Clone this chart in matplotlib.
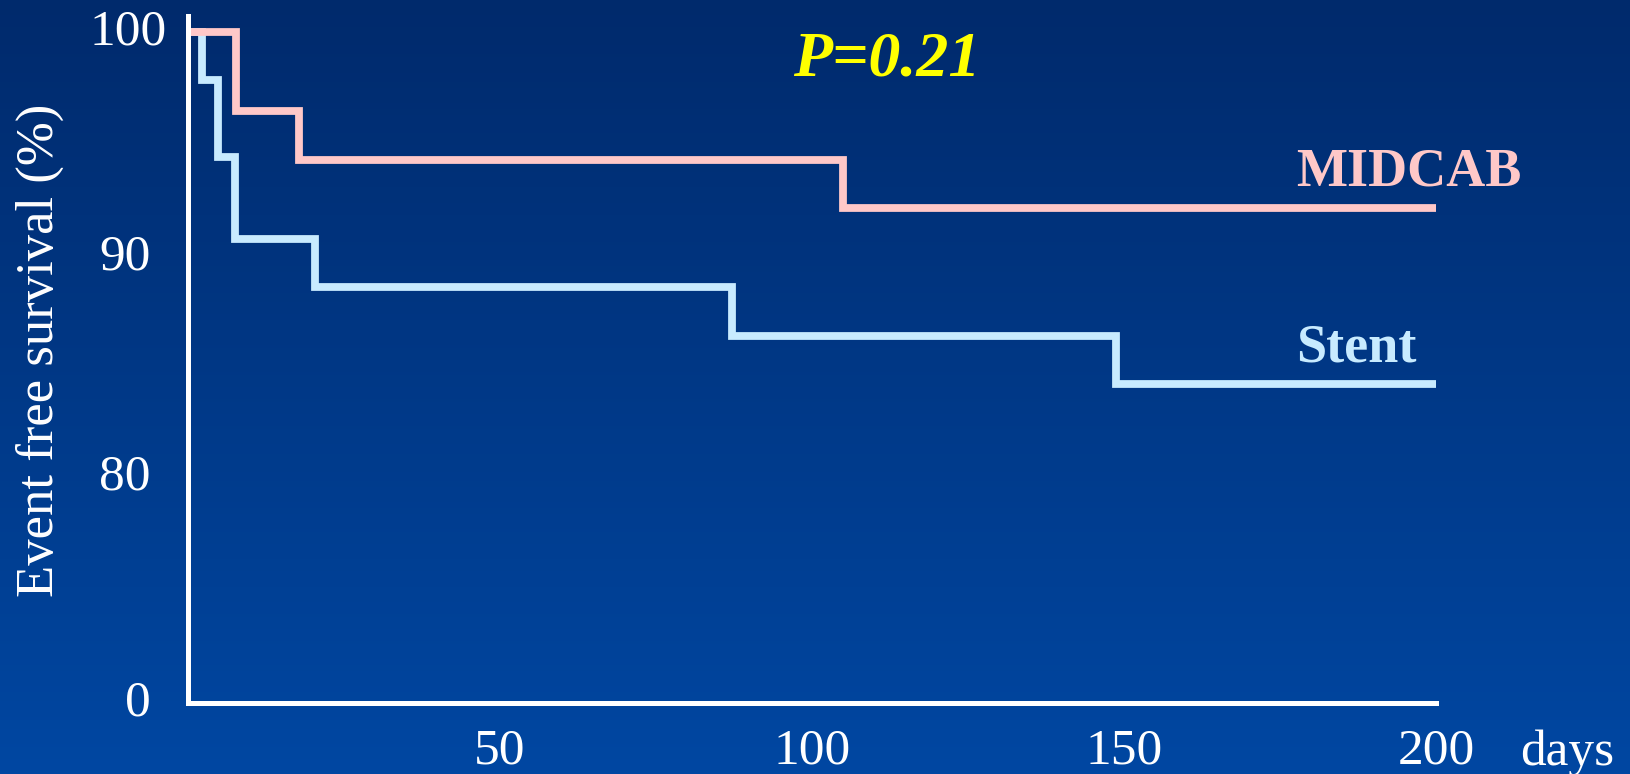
import numpy as np
import matplotlib
matplotlib.use("Agg")
import matplotlib.pyplot as plt
from matplotlib.colors import LinearSegmentedColormap

plt.rcParams['font.family'] = ['Liberation Serif', 'DejaVu Serif']

# Kaplan-Meier steps (days, % event free)
midcab_t = [0, 7.7, 17.8, 105.0, 200]
midcab_s = [100, 96.4, 94.2, 92.0, 92.0]
stent_t = [0, 2.2, 4.8, 7.5, 20.4, 87.2, 148.7, 200]
stent_s = [100, 97.8, 94.3, 90.6, 88.4, 86.2, 84.0, 84.0]

xticks = [50, 100, 150, 200]
yticks = [69.75, 80, 90, 100]
ytick_labels = ["0", "80", "90", ""]

pink = "#FFC8C8"
lightblue = "#C8EBFF"

fig = plt.figure(figsize=(16.3, 7.74), dpi=100)

# vertical blue gradient behind everything
bg = fig.add_axes([0, 0, 1, 1], zorder=-10)
cmap = LinearSegmentedColormap.from_list("bg", ["#002A6C", "#0047A2"])
bg.imshow(np.linspace(0, 1, 256).reshape(-1, 1), aspect="auto", cmap=cmap,
          extent=[0, 1, 0, 1])
bg.set_axis_off()

ax = fig.add_axes([188/1630, 71/774, (1436-188)/1630, (703-16)/774])
ax.patch.set_alpha(0)

ax.step(stent_t, stent_s, where="post", color=lightblue, lw=5.6,
        solid_joinstyle="miter", solid_capstyle="butt", clip_on=False)
ax.step(midcab_t, midcab_s, where="post", color=pink, lw=5.6,
        solid_joinstyle="miter", solid_capstyle="butt", clip_on=False)

ax.set_xlim(0, 200)
ax.set_ylim(69.5, 100.73)

for side in ["top", "right"]:
    ax.spines[side].set_visible(False)
for side in ["left", "bottom"]:
    ax.spines[side].set_color("white")
    ax.spines[side].set_linewidth(3.6)

ax.set_xticks(xticks)
ax.set_xticklabels([str(v) for v in xticks])
ax.set_yticks(yticks)
ax.set_yticklabels(ytick_labels)
ax.tick_params(axis="both", length=0, colors="white", labelsize=37)
ax.tick_params(axis="x", pad=18)
ax.tick_params(axis="y", pad=27)

# the top label sits closer to the axis than the others
ax.annotate("100", xy=(0, yticks[-1]), xytext=(-21, 0),
            textcoords="offset pixels", ha="right", va="center",
            color="white", fontsize=37)

fig.text(40/1630, 1-350/774, "Event free survival (%)", rotation=90,
         color="white", fontsize=38, ha="center", va="center")
fig.text(1520/1630, 1-765/774, "days", color="white", fontsize=37,
         ha="left", va="baseline")

fig.text(887/1630, 1-61/774, "P=0.21", color="#FFFF00", fontsize=46,
         fontweight="bold", style="italic", ha="center", va="center")
fig.text(1296/1630, 1-186/774, "MIDCAB", color=pink, fontsize=39,
         fontweight="bold", ha="left", va="baseline")
fig.text(1296/1630, 1-362/774, "Stent", color=lightblue, fontsize=39,
         fontweight="bold", ha="left", va="baseline")

fig.savefig("out.png", dpi=100)
